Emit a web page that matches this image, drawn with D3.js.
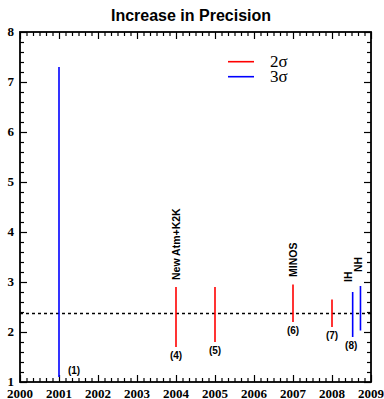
<!DOCTYPE html>
<html>
<head>
<meta charset="utf-8">
<script src="https://cdn.jsdelivr.net/npm/d3@7"></script>
<style>
  html, body { margin: 0; padding: 0; background: #fff; }
  svg { display: block; }
</style>
</head>
<body>
<script>
// ---- data ----
const years   = [2001, 2004, 2005, 2007, 2008, 2008.53, 2008.73];
const lows    = [1.1, 1.7, 1.8, 2.2, 2.1, 1.9, 2.03];
const highs   = [7.3, 2.9, 2.9, 2.95, 2.65, 2.8, 2.92];
const sigmas  = [3, 2, 2, 2, 2, 3, 3];
const topLabels = ["", "New Atm+K2K", "", "MINOS", "", "IH", "NH"];
const numLabels = ["(1)", "(4)", "(5)", "(6)", "(7)", "(8)", ""];
const refLevel = 2.37;
const xTicks = [2000, 2001, 2002, 2003, 2004, 2005, 2006, 2007, 2008, 2009];
const yTicks = [1, 2, 3, 4, 5, 6, 7, 8];
const legendItems = ["2σ", "3σ"];
const legendSigmas = [2, 3];
const title = "Increase in Precision";

// ---- layout ----
const W = 384, H = 399;
const L = 20, R = 371, T = 32, B = 382;
const x = d3.scaleLinear().domain([2000, 2009]).range([L, R]);
const y = d3.scaleLinear().domain([1, 8]).range([B, T]);
const color = s => s === 2 ? "#ff0000" : "#0000ff";
const SERIF = "'Liberation Serif'";
const SANS = "'Liberation Sans'";

const svg = d3.select("body").append("svg").attr("width", W).attr("height", H);

// title
svg.append("text").attr("x", 191).attr("y", 21).attr("text-anchor", "middle")
  .style("font-family", SANS).style("font-weight", "700")
  .style("font-size", "16px").text(title);

// minor tick values
const xMinor = d3.range(0, 9 * 6 + 1).map(i => 2000 + i / 6).filter((v, i) => i % 6 !== 0);
const yMinor = d3.range(0, 7 * 5 + 1).map(i => 1 + i / 5).filter((v, i) => i % 5 !== 0);

const g = svg.append("g");
function ax(gen, tr, vals, size) {
  g.append("g").attr("transform", tr)
    .call(gen.tickValues(vals).tickFormat("").tickSizeInner(-size).tickSizeOuter(0));
}
ax(d3.axisBottom(x), `translate(0,${B})`, xTicks, 7);
ax(d3.axisBottom(x), `translate(0,${B})`, xMinor, 4);
ax(d3.axisTop(x), `translate(0,${T})`, xTicks, 7);
ax(d3.axisTop(x), `translate(0,${T})`, xMinor, 4);
ax(d3.axisLeft(y), `translate(${L},0)`, yTicks, 7);
ax(d3.axisLeft(y), `translate(${L},0)`, yMinor, 4);
ax(d3.axisRight(y), `translate(${R},0)`, yTicks, 7);
ax(d3.axisRight(y), `translate(${R},0)`, yMinor, 4);
g.selectAll(".domain").remove();
g.selectAll(".tick text").remove();
g.selectAll(".tick line").attr("stroke", "#000").attr("stroke-width", 1.2);

// tick labels (own text elements, positioned through the scales)
svg.append("g").selectAll("text").data(xTicks).enter().append("text")
  .attr("x", d => x(d)).attr("y", B + 15.5).attr("text-anchor", "middle")
  .style("font-family", SERIF).style("font-weight", "700").style("font-size", "13px")
  .attr("fill", "#000").text(d => String(d));
svg.append("g").selectAll("text").data(yTicks).enter().append("text")
  .attr("x", L - 6).attr("y", d => y(d)).attr("dy", "0.33em").attr("text-anchor", "end")
  .style("font-family", SERIF).style("font-weight", "700").style("font-size", "13px")
  .attr("fill", "#000").text(d => String(d));

// frame
svg.append("rect").attr("x", L).attr("y", T).attr("width", R - L).attr("height", B - T)
  .attr("fill", "none").attr("stroke", "#000").attr("stroke-width", 1.8);

// dashed reference line
svg.append("line").attr("x1", L).attr("x2", R).attr("y1", y(refLevel)).attr("y2", y(refLevel))
  .attr("stroke", "#000").attr("stroke-width", 1.5).attr("stroke-dasharray", "3,3");

// bars
const idx = d3.range(years.length);
svg.selectAll("line.bar").data(idx).enter().append("line").attr("class", "bar")
  .attr("x1", i => x(years[i])).attr("x2", i => x(years[i]))
  .attr("y1", i => y(lows[i])).attr("y2", i => y(highs[i]))
  .attr("stroke", i => color(sigmas[i])).attr("stroke-width", 1.6);

// rotated labels above bars
const topGap = [0, 7, 0, 7.5, 0, 10, 14];
const topDx = [0, 0, 0, 0, 0, -4.6, -2];
svg.selectAll("text.top").data(idx.filter(i => topLabels[i])).enter().append("text")
  .attr("class", "top")
  .attr("transform", i => `translate(${x(years[i]) + topDx[i]},${y(highs[i]) - topGap[i]}) rotate(-90)`)
  .attr("dy", "0.36em")
  .style("font-family", SANS).style("font-weight", "700")
  .style("font-size", "10.5px").attr("fill", "#000")
  .text(i => topLabels[i]);

// number labels below bars
svg.selectAll("text.num").data(idx.filter(i => numLabels[i])).enter().append("text")
  .attr("class", "num")
  .attr("x", i => i === 0 ? x(years[i]) + 15 : x(years[i]) - (i === 5 ? 1.5 : 0))
  .attr("y", i => i === 0 ? y(lows[i]) - 3 : y(lows[i]) + 11.5)
  .attr("text-anchor", "middle")
  .style("font-family", SANS).style("font-weight", "700")
  .style("font-size", "10px").attr("fill", "#000")
  .text(i => numLabels[i]);

// legend
const lg = svg.append("g");
legendItems.forEach((t, k) => {
  const ly = 61.7 + k * 15;
  lg.append("line").attr("x1", 228).attr("x2", 254).attr("y1", ly).attr("y2", ly)
    .attr("stroke", color(legendSigmas[k])).attr("stroke-width", 1.6);
  lg.append("text").attr("x", 270).attr("y", ly + 5.5)
    .style("font-family", SERIF)
    .style("font-size", "17px").attr("fill", "#000").text(t);
});
</script>
</body>
</html>
